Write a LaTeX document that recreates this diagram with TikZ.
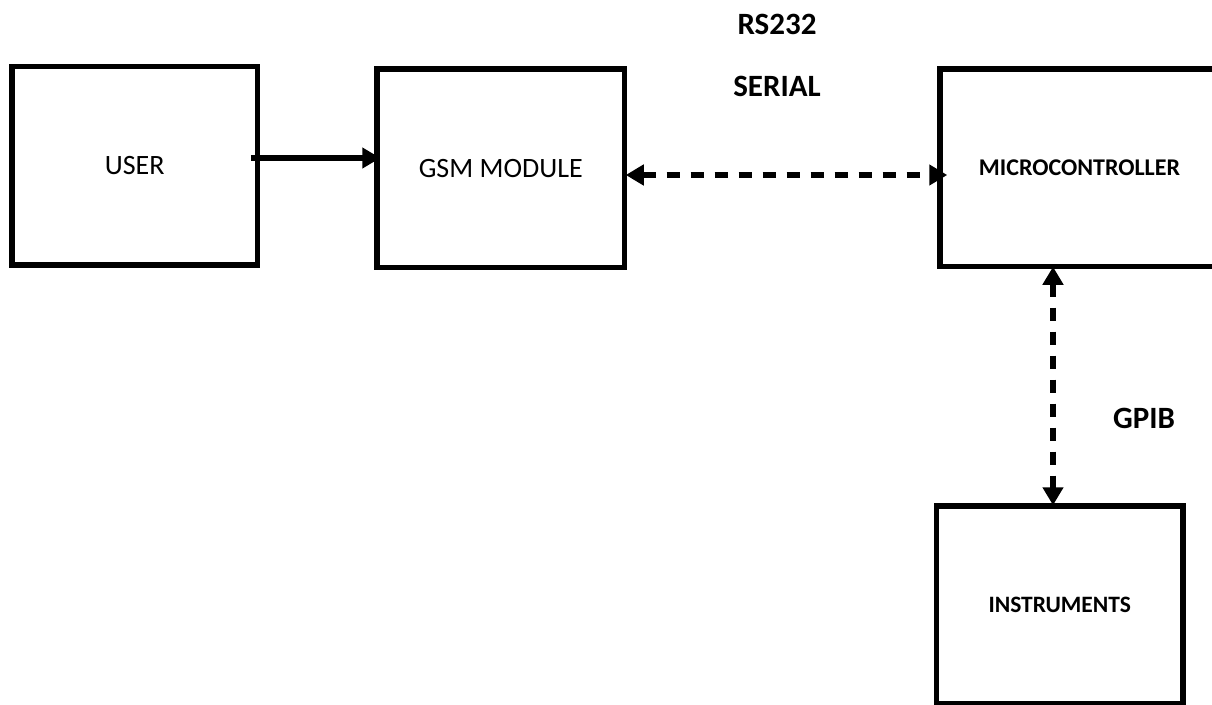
\documentclass[tikz,border=0pt]{standalone}
\usepackage{fontspec}
\setmainfont{Carlito}
\usetikzlibrary{arrows.meta}
\begin{document}
\begin{tikzpicture}[x=1pt,y=-1pt,
  block/.style={draw=black,line width=5.5pt,rectangle,inner sep=0pt,anchor=center},
  plainlbl/.style={font=\fontsize{28}{34}\selectfont},
  boldbox/.style={font=\fontsize{24}{29}\selectfont\bfseries},
  boldbox2/.style={font=\fontsize{23.5}{28}\selectfont\bfseries},
  boldlbl/.style={font=\fontsize{31}{37}\selectfont\bfseries},
  conn/.style={line width=6pt,-{Triangle[length=18pt,width=20pt]}},
  dconn/.style={line width=6pt,dash pattern=on 13pt off 11pt,{Triangle[length=18pt,width=20pt]}-{Triangle[length=18pt,width=20pt]}}]
\useasboundingbox (0,0) rectangle (1212,704);
\node[block,plainlbl,minimum width=245.5pt,minimum height=198.3pt] (user) at (134.75,165.85) {USER};
\node[block,plainlbl,minimum width=247.5pt,minimum height=198.5pt] (gsm) at (500.75,168.25) {GSM MODULE};
\node[block,boldbox,minimum width=279pt,minimum height=197.5pt] (mc) at (1079.5,167.75) {MICROCONTROLLER};
\node[block,boldbox2,minimum width=246.5pt,minimum height=198pt] (ins) at (1059.75,605) {INSTRUMENTS};
\node[boldlbl] (rs) at (777,24) {RS232};
\node[boldlbl] (ser) at (777,86) {SERIAL};
\node[boldlbl] (gpib) at (1144,418) {GPIB};
\draw[conn] ([xshift=-9.5pt,yshift=7.85pt]user.east) -- ([xshift=6pt,yshift=10.25pt]gsm.west);
\draw[dconn] ([xshift=-1.5pt,yshift=-6.75pt]gsm.east) -- ([xshift=10pt,yshift=-7.25pt]mc.west);
\draw[dconn] ([xshift=-26.5pt,yshift=2.5pt]mc.south) -- ([xshift=-6.75pt,yshift=-2pt]ins.north);
\end{tikzpicture}
\end{document}
